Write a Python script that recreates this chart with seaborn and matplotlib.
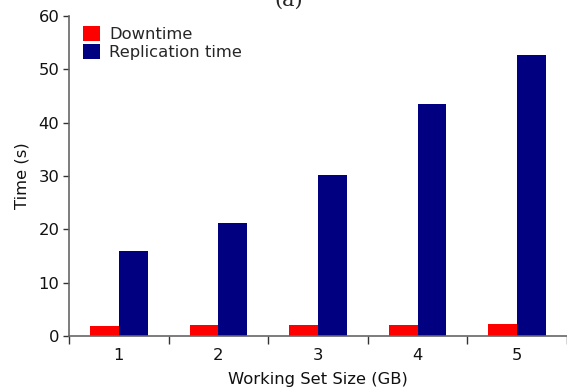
import matplotlib
matplotlib.use("Agg")
import matplotlib.pyplot as plt
from matplotlib.ticker import FixedLocator
import seaborn as sns
import pandas as pd

sizes = ["1", "2", "3", "4", "5"]
downtime = [1.9, 2.05, 2.05, 2.05, 2.25]
replication = [15.9, 21.2, 30.2, 43.5, 52.7]
series_names = ["Downtime", "Replication time"]

df = pd.DataFrame({
    "size": sizes * 2,
    "time": downtime + replication,
    "series": [series_names[0]] * len(sizes) + [series_names[1]] * len(sizes),
})

sns.set_style("white")
plt.rcParams["font.family"] = ["DejaVu Sans"]

FS = 11.8

fig = plt.figure(figsize=(5.67, 3.89), dpi=100)
ax = fig.add_axes([69 / 567, 53 / 389, 498 / 567, 320 / 389])

sns.barplot(data=df, x="size", y="time", hue="series", order=sizes,
            hue_order=series_names, palette=["#ff0000", "#000080"],
            width=0.58, saturation=1, ax=ax, linewidth=0)

ax.set_xlim(-0.5, 4.5)
ax.set_ylim(0, 60)
ax.set_yticks([0, 10, 20, 30, 40, 50, 60])
ax.xaxis.set_minor_locator(FixedLocator([-0.5, 0.5, 1.5, 2.5, 3.5, 4.5]))
ax.tick_params(axis="x", which="major", length=0, labelsize=FS, pad=9, colors="#111111")
ax.tick_params(axis="x", which="minor", length=6, width=1, direction="out", color="#333333", bottom=True)
ax.tick_params(axis="y", which="major", length=4, width=1, direction="out", left=True,
               labelsize=FS, pad=3, color="#333333", labelcolor="#111111")

for s in ["top", "right"]:
    ax.spines[s].set_visible(False)
for s in ["left", "bottom"]:
    ax.spines[s].set_color("#666666")
    ax.spines[s].set_linewidth(1.2)

ax.set_xlabel("Working Set Size (GB)", fontsize=FS, color="#111111", labelpad=6)
ax.set_ylabel("Time (s)", fontsize=FS, color="#111111", labelpad=6)

ax.legend(loc="upper left", bbox_to_anchor=(14 / 498, 0.969), frameon=False,
          borderaxespad=0, borderpad=0, handlelength=1.05, handleheight=1.05,
          handletextpad=0.55, labelspacing=0.12, fontsize=FS)

fig.text(289 / 567, 1 - 6 / 389, "(a)", ha="center", va="baseline",
         fontsize=15, family="DejaVu Serif")

fig.savefig("out.png", dpi=100)
